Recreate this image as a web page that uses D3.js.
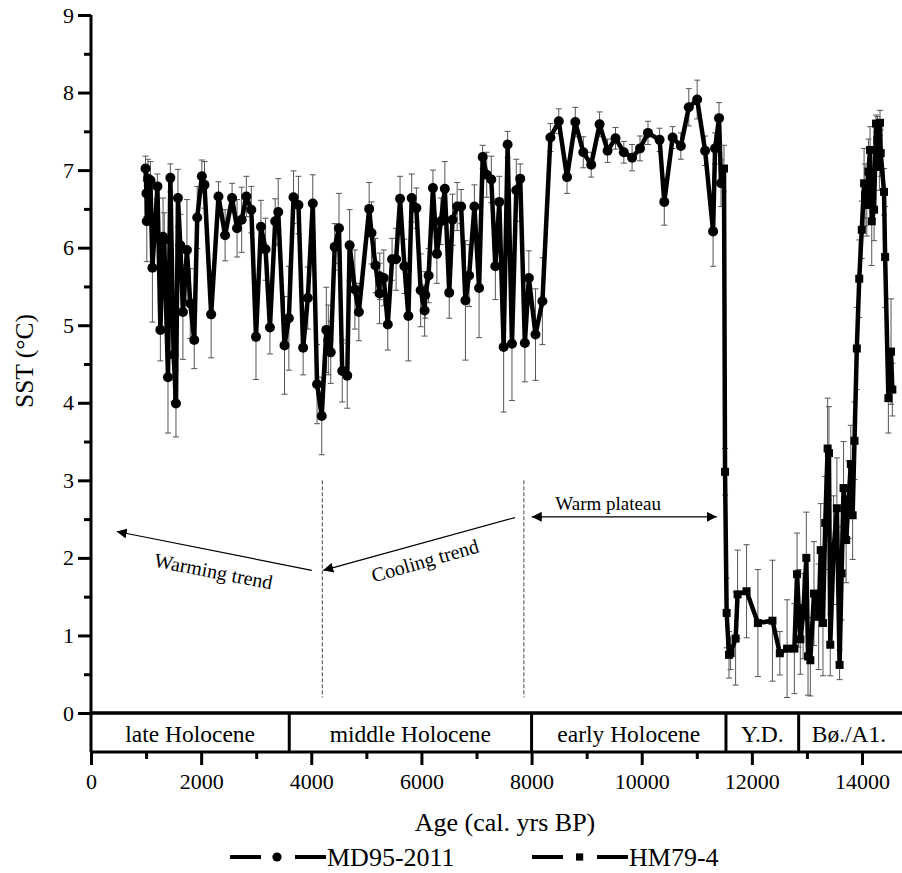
<!DOCTYPE html>
<html>
<head>
<meta charset="utf-8">
<script src="https://cdn.jsdelivr.net/npm/d3@7/dist/d3.min.js"></script>
<style>
  body { margin: 0; background: #fff; }
  svg { display: block; font-family: "Liberation Serif", "DejaVu Serif", serif; }
</style>
</head>
<body>
<svg id="chart"></svg>
<script>
// ---- data ----
// MD95-2011: age (cal. yrs BP), SST (°C), error (±°C)
const mdAge = [990, 1007, 1013, 1036, 1079, 1115, 1206, 1260, 1308, 1330, 1398, 1441, 1500, 1543, 1579, 1622, 1669, 1742, 1803, 1875,
  1929, 2013, 2061, 2182, 2315, 2435, 2562, 2652, 2736, 2821, 2911, 2996, 3086, 3170, 3249, 3345, 3400, 3514, 3593, 3677,
  3767, 3852, 3937, 4027, 4105, 4190, 4273, 4309, 4353, 4425, 4503, 4562, 4653, 4696, 4792, 4864, 5051, 5093, 5166, 5239,
  5244, 5316, 5389, 5467, 5540, 5612, 5691, 5763, 5823, 5908, 5986, 6058, 6070, 6130, 6209, 6281, 6353, 6425, 6505, 6564,
  6649, 6721, 6799, 6866, 6962, 7047, 7112, 7185, 7269, 7342, 7414, 7493, 7565, 7644, 7722, 7794, 7878, 7951, 8071, 8197,
  8342, 8494, 8644, 8794, 8939, 9083, 9235, 9380, 9524, 9675, 9825, 9969, 10114, 10325, 10410, 10561, 10711, 10855, 11007, 11151,
  11296, 11332, 11404, 11440];
const mdSST = [7.02, 6.70, 6.34, 6.89, 6.87, 5.74, 6.79, 4.94, 6.14, 6.10, 4.33, 6.90, 4.62, 3.99, 6.64, 6.03, 5.17, 5.97, 5.28, 4.81,
  6.39, 6.92, 6.81, 5.14, 6.66, 6.16, 6.64, 6.25, 6.36, 6.66, 6.49, 4.85, 6.27, 5.98, 4.97, 6.34, 6.46, 4.74, 5.09, 6.65,
  6.55, 4.71, 5.35, 6.57, 4.24, 3.83, 4.94, 4.81, 4.65, 6.01, 6.25, 4.41, 4.35, 6.03, 5.46, 5.17, 6.50, 6.19, 5.77, 5.41,
  5.63, 5.61, 5.01, 5.85, 5.85, 6.63, 5.76, 5.12, 6.64, 6.51, 5.45, 5.19, 5.39, 5.64, 6.77, 5.92, 6.34, 6.76, 5.42, 6.36,
  6.53, 6.53, 5.32, 5.64, 6.53, 5.48, 7.17, 6.94, 6.88, 5.76, 6.59, 4.72, 7.33, 4.76, 6.74, 6.89, 4.77, 5.61, 4.88, 5.31,
  7.42, 7.63, 6.91, 7.62, 7.23, 7.07, 7.59, 7.25, 7.41, 7.23, 7.16, 7.28, 7.48, 7.39, 6.59, 7.42, 7.31, 7.81, 7.91, 7.25,
  6.21, 7.28, 7.67, 6.83];
const mdErr = [0.16, 0.30, 0.52, 0.25, 0.24, 0.70, 0.16, 0.40, 0.50, 0.35, 0.72, 0.18, 0.60, 0.43, 0.37, 0.40, 0.61, 0.65, 0.45, 0.37,
  0.40, 0.21, 0.30, 0.56, 0.19, 0.33, 0.19, 0.37, 0.42, 0.26, 0.30, 0.55, 0.34, 0.40, 0.34, 0.29, 0.43, 0.63, 0.67, 0.34,
  0.37, 0.35, 0.40, 0.37, 0.51, 0.50, 0.55, 0.45, 0.40, 0.30, 0.45, 0.40, 0.42, 0.46, 0.51, 0.37, 0.34, 0.40, 0.35, 0.39,
  0.30, 0.36, 0.33, 0.27, 0.40, 0.29, 0.35, 0.58, 0.31, 0.26, 0.47, 0.33, 0.30, 0.35, 0.23, 0.38, 0.30, 0.35, 0.33, 0.33,
  0.31, 0.22, 0.77, 0.40, 0.28, 0.64, 0.15, 0.29, 0.30, 0.43, 0.33, 0.84, 0.17, 0.73, 0.40, 0.19, 0.50, 0.35, 0.59, 0.56,
  0.18, 0.16, 0.21, 0.19, 0.20, 0.16, 0.16, 0.15, 0.14, 0.14, 0.17, 0.16, 0.15, 0.15, 0.30, 0.14, 0.17, 0.24, 0.25, 0.19,
  0.45, 0.20, 0.20, 0.30];

// HM79-4
const hmAge = [11494, 11513, 11542, 11585, 11614, 11705, 11741, 11904, 12110, 12374, 12508, 12640, 12772, 12821, 12850, 12880, 12930, 12989, 13020, 13062,
  13128, 13213, 13250, 13291, 13333, 13376, 13400, 13424, 13484, 13544, 13593, 13630, 13665, 13712, 13756, 13797, 13830, 13864, 13906, 13950,
  13996, 14038, 14056, 14087, 14117, 14146, 14177, 14219, 14255, 14280, 14316, 14327, 14340, 14400, 14420, 14479, 14527, 14551];
const hmSST = [7.02, 3.11, 1.29, 0.75, 0.77, 0.96, 1.53, 1.57, 1.16, 1.19, 0.77, 0.83, 0.83, 1.79, 1.35, 0.95, 1.25, 2.00, 0.73, 0.68,
  1.54, 1.24, 2.10, 1.16, 2.45, 3.41, 3.35, 0.88, 2.10, 2.64, 0.62, 1.80, 2.90, 2.23, 2.75, 3.21, 2.55, 3.51, 4.70, 5.60,
  6.23, 6.83, 6.68, 6.55, 6.98, 7.26, 6.34, 6.49, 7.60, 7.39, 7.04, 7.61, 7.22, 6.72, 5.88, 4.06, 4.66, 4.17];
const hmErr = [0.30, 0.30, 0.45, 0.30, 0.21, 0.60, 0.57, 0.60, 0.69, 0.78, 0.28, 0.63, 0.58, 0.53, 0.50, 0.45, 0.55, 0.59, 0.50, 0.46,
  0.67, 0.68, 0.60, 0.68, 0.60, 0.65, 0.60, 0.40, 0.70, 0.65, 0.19, 0.60, 0.60, 0.55, 0.50, 0.50, 0.57, 0.50, 0.53, 0.50,
  0.37, 0.45, 0.40, 0.40, 0.42, 0.30, 0.57, 0.40, 0.11, 0.30, 0.30, 0.16, 0.30, 0.30, 0.65, 0.45, 0.68, 0.34];

// climate periods along the bottom
const periodNames = ['late Holocene', 'middle Holocene', 'early Holocene', 'Y.D.', 'Bø./A1.'];
const periodStart = [0, 3600, 8000, 11530, 12850];
const periodEnd = [3600, 8000, 11530, 12850, 15000];

const yTicks = [0, 1, 2, 3, 4, 5, 6, 7, 8, 9];
const xTicks = [0, 2000, 4000, 6000, 8000, 10000, 12000, 14000];

// ---- layout ----
const W = 902, H = 873;
const left = 91, axisY = 713, boxBottom = 752;

const svg = d3.select('#chart').attr('width', W).attr('height', H);

const x = d3.scaleLinear().domain([0, 14000]).range([left, 862]);
const y = d3.scaleLinear().domain([0, 9]).range([axisY, 15]);

const mdData = mdAge.map((a, i) => ({ age: a, sst: mdSST[i], err: mdErr[i] }));
const hmData = hmAge.map((a, i) => ({ age: a, sst: hmSST[i], err: hmErr[i] }));

// ---- y axis ----
const yAxis = svg.append('g')
  .attr('transform', `translate(${left},0)`)
  .call(d3.axisLeft(y).tickValues(yTicks).tickSize(13).tickPadding(4).tickFormat(d3.format('d')));
yAxis.select('.domain').remove();
yAxis.selectAll('line').attr('stroke', '#000').attr('stroke-width', 3);
yAxis.selectAll('text').attr('font-size', 22).attr('font-family', 'Liberation Serif').attr('fill', '#000');

const yMinor = svg.append('g')
  .attr('transform', `translate(${left},0)`)
  .call(d3.axisLeft(y).tickValues(d3.range(0.5, 9, 1)).tickSize(7).tickFormat(''));
yMinor.select('.domain').remove();
yMinor.selectAll('line').attr('stroke', '#000').attr('stroke-width', 3);

// left spine runs down through the period box
svg.append('line')
  .attr('x1', left).attr('x2', left).attr('y1', y(9)).attr('y2', boxBottom)
  .attr('stroke', '#000').attr('stroke-width', 3);

// ---- period box ----
svg.append('line').attr('x1', left).attr('x2', W).attr('y1', axisY).attr('y2', axisY)
  .attr('stroke', '#000').attr('stroke-width', 3.5);
svg.append('line').attr('x1', left).attr('x2', W).attr('y1', boxBottom).attr('y2', boxBottom)
  .attr('stroke', '#000').attr('stroke-width', 3);

const periods = svg.append('g');
periodStart.forEach((s, i) => {
  if (i > 0) {
    periods.append('line')
      .attr('x1', x(s)).attr('x2', x(s)).attr('y1', axisY).attr('y2', boxBottom)
      .attr('stroke', '#000').attr('stroke-width', 3);
  }
  const cx = (x(s) + Math.min(x(periodEnd[i]), W)) / 2;
  periods.append('text')
    .attr('x', i === 4 ? 849 : cx)
    .attr('y', 742)
    .attr('text-anchor', 'middle')
    .attr('font-size', 23.5)
    .text(periodNames[i]);
});

// ---- x axis (below the box) ----
const xAxis = svg.append('g')
  .attr('transform', `translate(0,${boxBottom})`)
  .call(d3.axisBottom(x).tickValues(xTicks).tickSize(13).tickPadding(8).tickFormat(d3.format('d')));
xAxis.select('.domain').remove();
xAxis.selectAll('line').attr('stroke', '#000').attr('stroke-width', 3);
xAxis.selectAll('text').attr('font-size', 22).attr('font-family', 'Liberation Serif').attr('fill', '#000');

const xMinor = svg.append('g')
  .attr('transform', `translate(0,${boxBottom})`)
  .call(d3.axisBottom(x).tickValues(d3.range(1000, 14001, 2000)).tickSize(7).tickFormat(''));
xMinor.select('.domain').remove();
xMinor.selectAll('line').attr('stroke', '#000').attr('stroke-width', 3);

// axis titles
svg.append('text')
  .attr('x', 505).attr('y', 831)
  .attr('text-anchor', 'middle')
  .attr('font-size', 26)
  .text('Age (cal. yrs BP)');

svg.append('text')
  .attr('transform', `translate(33,361) rotate(-90)`)
  .attr('text-anchor', 'middle')
  .attr('font-size', 25.5)
  .text('SST (°C)');

// ---- annotations ----
const defs = svg.append('defs');
defs.append('marker')
  .attr('id', 'head')
  .attr('viewBox', '0 0 10 10')
  .attr('refX', 10).attr('refY', 5)
  .attr('markerWidth', 10).attr('markerHeight', 10)
  .attr('markerUnits', 'userSpaceOnUse')
  .attr('orient', 'auto-start-reverse')
  .append('path').attr('d', 'M0,0 L10,5 L0,10 z').attr('fill', '#000');

const notes = svg.append('g');

// dashed boundaries of the trends
[4200, 7860].forEach(a => {
  notes.append('line')
    .attr('x1', x(a)).attr('x2', x(a)).attr('y1', y(3.0)).attr('y2', y(0.2))
    .attr('stroke', '#444').attr('stroke-width', 1).attr('stroke-dasharray', '4,2');
});

// warming trend arrow
notes.append('line')
  .attr('x1', x(4008)).attr('y1', y(1.84)).attr('x2', x(467)).attr('y2', y(2.34))
  .attr('stroke', '#000').attr('stroke-width', 1.2).attr('marker-end', 'url(#head)');
notes.append('text')
  .attr('transform', `translate(${x(2200)},${y(1.74)}) rotate(11)`)
  .attr('text-anchor', 'middle').attr('font-size', 20)
  .text('Warming trend');

// cooling trend arrow
notes.append('line')
  .attr('x1', x(7700)).attr('y1', y(2.52)).attr('x2', x(4218)).attr('y2', y(1.84))
  .attr('stroke', '#000').attr('stroke-width', 1.2).attr('marker-end', 'url(#head)');
notes.append('text')
  .attr('transform', `translate(${x(6100)},${y(1.88)}) rotate(-16)`)
  .attr('text-anchor', 'middle').attr('font-size', 20)
  .text('Cooling trend');

// warm plateau double arrow
notes.append('line')
  .attr('x1', x(8003)).attr('y1', y(2.53)).attr('x2', x(11362)).attr('y2', y(2.53))
  .attr('stroke', '#000').attr('stroke-width', 1.2)
  .attr('marker-start', 'url(#head)').attr('marker-end', 'url(#head)');
notes.append('text')
  .attr('x', x(9390)).attr('y', y(2.62))
  .attr('text-anchor', 'middle').attr('font-size', 19)
  .text('Warm plateau');

// ---- series ----
function drawSeries(data, shape) {
  const g = svg.append('g');

  // error bars
  const eb = g.append('g').attr('stroke', '#555').attr('stroke-width', 1);
  data.forEach(d => {
    const x0 = x(d.age), y1 = y(d.sst + d.err), y2 = y(d.sst - d.err);
    eb.append('line').attr('x1', x0).attr('x2', x0).attr('y1', y1).attr('y2', y2);
    eb.append('line').attr('x1', x0 - 3).attr('x2', x0 + 3).attr('y1', y1).attr('y2', y1);
    eb.append('line').attr('x1', x0 - 3).attr('x2', x0 + 3).attr('y1', y2).attr('y2', y2);
  });

  const line = d3.line().x(d => x(d.age)).y(d => y(d.sst));
  g.append('path')
    .datum(data)
    .attr('d', line)
    .attr('fill', 'none')
    .attr('stroke', '#000')
    .attr('stroke-width', 4.5)
    .attr('stroke-linejoin', 'round');

  if (shape === 'circle') {
    g.selectAll('circle').data(data).join('circle')
      .attr('cx', d => x(d.age)).attr('cy', d => y(d.sst)).attr('r', 5).attr('fill', '#000');
  } else {
    g.selectAll('rect').data(data).join('rect')
      .attr('x', d => x(d.age) - 4).attr('y', d => y(d.sst) - 4)
      .attr('width', 8).attr('height', 8).attr('fill', '#000');
  }
}

drawSeries(mdData, 'circle');
drawSeries(hmData, 'square');

// ---- legend ----
const legend = svg.append('g').attr('font-size', 26);
const legY = 857;
const legItems = [
  { name: 'MD95-2011', shape: 'circle', x0: 230 },
  { name: 'HM79-4', shape: 'square', x0: 532 }
];
legItems.forEach(it => {
  legend.append('line').attr('x1', it.x0).attr('x2', it.x0 + 31).attr('y1', legY).attr('y2', legY)
    .attr('stroke', '#000').attr('stroke-width', 4);
  legend.append('line').attr('x1', it.x0 + 65).attr('x2', it.x0 + 96).attr('y1', legY).attr('y2', legY)
    .attr('stroke', '#000').attr('stroke-width', 4);
  if (it.shape === 'circle') {
    legend.append('circle').attr('cx', it.x0 + 47).attr('cy', legY).attr('r', 4.6).attr('fill', '#000');
  } else {
    legend.append('rect').attr('x', it.x0 + 44).attr('y', legY - 3.6).attr('width', 7.2).attr('height', 7.2).attr('fill', '#000');
  }
  legend.append('text').attr('x', it.x0 + 97).attr('y', legY + 9).text(it.name);
});
</script>
</body>
</html>
